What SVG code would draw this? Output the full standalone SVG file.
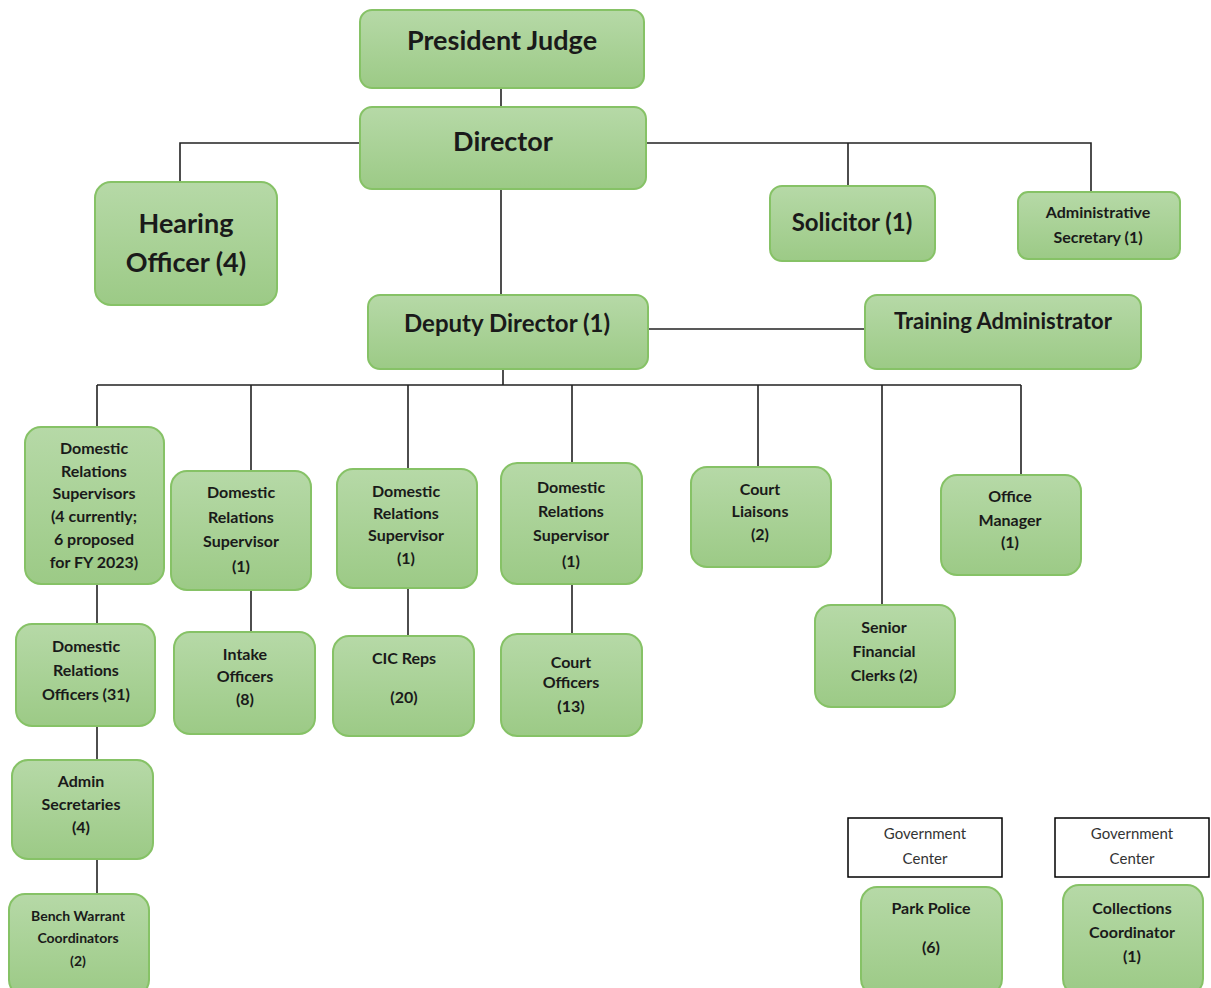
<svg xmlns="http://www.w3.org/2000/svg" width="1211" height="988" viewBox="0 0 1211 988">
<defs>
<linearGradient id="g" x1="0" y1="0" x2="0" y2="1">
<stop offset="0" stop-color="#b6d9a7"/>
<stop offset="1" stop-color="#9cca86"/>
</linearGradient>
<style>
.n{fill:url(#g);stroke:#86c266;stroke-width:2}
.w{fill:#fff;stroke:#000;stroke-width:1.5}
text{font-family:Lato,"Open Sans","Liberation Sans",sans-serif;fill:#1a1a1a;text-anchor:middle}
.b{font-weight:bold}
.xl{font-size:27px}
.l{font-size:24px}
.m{font-size:22px}
.s{font-size:16px;font-weight:bold}
.xs{font-size:14px;font-weight:bold}
.g{font-size:15px;fill:#333}
#conn path{stroke:#222;stroke-width:1.6;fill:none}
</style>
</defs>
<rect width="1211" height="988" fill="#fff"/>
<g id="conn">
<path d="M501 88V107"/>
<path d="M360 143H180V182"/>
<path d="M646 143H1091V192M848 143V186"/>
<path d="M501 189V295"/>
<path d="M648 329H865"/>
<path d="M503 369V385M97 385H1021"/>
<path d="M97 385V427M251 385V471M408 385V469M572 385V463M758 385V467M882 385V605M1021 385V475"/>
<path d="M97 584V624M251 590V632M408 588V636M572 584V634"/>
<path d="M97 726V760M97 859V894"/>
</g>
<g id="president"><rect class="n" x="360" y="10" width="284" height="78" rx="12"/><text class="b xl" x="502" y="50">President Judge</text></g>
<g id="director"><rect class="n" x="360" y="107" width="286" height="82" rx="12"/><text class="b xl" x="503" y="151">Director</text></g>
<g id="hearing"><rect class="n" x="95" y="182" width="182" height="123" rx="16"/><text class="b xl" x="186" y="233">Hearing</text><text class="b xl" x="186" y="272">Officer (4)</text></g>
<g id="solicitor"><rect class="n" x="770" y="186" width="165" height="75" rx="12"/><text class="b l" x="852" y="231">Solicitor (1)</text></g>
<g id="adminsec"><rect class="n" x="1018" y="192" width="162" height="67" rx="10"/><text class="s" x="1098" y="218">Administrative</text><text class="s" x="1098" y="243">Secretary (1)</text></g>
<g id="deputy"><rect class="n" x="368" y="295" width="280" height="74" rx="12"/><text class="b l" x="507" y="332">Deputy Director (1)</text></g>
<g id="training"><rect class="n" x="865" y="295" width="276" height="74" rx="12"/><text class="b m" x="1003" y="329">Training Administrator</text></g>
<g id="drs4"><rect class="n" x="25" y="427" width="139" height="157" rx="16"/>
<text class="s" x="94" y="454">Domestic</text><text class="s" x="94" y="477">Relations</text><text class="s" x="94" y="499">Supervisors</text><text class="s" x="94" y="522">(4 currently;</text><text class="s" x="94" y="545">6 proposed</text><text class="s" x="94" y="568">for FY 2023)</text></g>
<g id="drs1a"><rect class="n" x="171" y="471" width="140" height="119" rx="16"/>
<text class="s" x="241" y="498">Domestic</text><text class="s" x="241" y="523">Relations</text><text class="s" x="241" y="547">Supervisor</text><text class="s" x="241" y="572">(1)</text></g>
<g id="drs1b"><rect class="n" x="337" y="469" width="140" height="119" rx="16"/>
<text class="s" x="406" y="497">Domestic</text><text class="s" x="406" y="519">Relations</text><text class="s" x="406" y="541">Supervisor</text><text class="s" x="406" y="564">(1)</text></g>
<g id="drs1c"><rect class="n" x="501" y="463" width="141" height="121" rx="16"/>
<text class="s" x="571" y="493">Domestic</text><text class="s" x="571" y="517">Relations</text><text class="s" x="571" y="541">Supervisor</text><text class="s" x="571" y="567">(1)</text></g>
<g id="liaisons"><rect class="n" x="691" y="467" width="140" height="100" rx="16"/>
<text class="s" x="760" y="495">Court</text><text class="s" x="760" y="517">Liaisons</text><text class="s" x="760" y="540">(2)</text></g>
<g id="office"><rect class="n" x="941" y="475" width="140" height="100" rx="16"/>
<text class="s" x="1010" y="502">Office</text><text class="s" x="1010" y="526">Manager</text><text class="s" x="1010" y="548">(1)</text></g>
<g id="clerks"><rect class="n" x="815" y="605" width="140" height="102" rx="16"/>
<text class="s" x="884" y="633">Senior</text><text class="s" x="884" y="657">Financial</text><text class="s" x="884" y="681">Clerks (2)</text></g>
<g id="dro"><rect class="n" x="16" y="624" width="139" height="102" rx="16"/>
<text class="s" x="86" y="652">Domestic</text><text class="s" x="86" y="676">Relations</text><text class="s" x="86" y="700">Officers (31)</text></g>
<g id="intake"><rect class="n" x="174" y="632" width="141" height="102" rx="16"/>
<text class="s" x="245" y="660">Intake</text><text class="s" x="245" y="682">Officers</text><text class="s" x="245" y="705">(8)</text></g>
<g id="cic"><rect class="n" x="333" y="636" width="141" height="100" rx="16"/>
<text class="s" x="404" y="664">CIC Reps</text><text class="s" x="404" y="703">(20)</text></g>
<g id="courtoff"><rect class="n" x="501" y="634" width="141" height="102" rx="16"/>
<text class="s" x="571" y="668">Court</text><text class="s" x="571" y="688">Officers</text><text class="s" x="571" y="712">(13)</text></g>
<g id="adminsecs"><rect class="n" x="12" y="760" width="141" height="99" rx="16"/>
<text class="s" x="81" y="787">Admin</text><text class="s" x="81" y="810">Secretaries</text><text class="s" x="81" y="833">(4)</text></g>
<g id="bench"><rect class="n" x="9" y="894" width="140" height="102" rx="16"/>
<text class="xs" x="78" y="921">Bench Warrant</text><text class="xs" x="78" y="943">Coordinators</text><text class="xs" x="78" y="966">(2)</text></g>
<g id="gov1"><rect class="w" x="848" y="818" width="154" height="59"/><text class="g" x="925" y="839">Government</text><text class="g" x="925" y="864">Center</text></g>
<g id="gov2"><rect class="w" x="1055" y="818" width="154" height="59"/><text class="g" x="1132" y="839">Government</text><text class="g" x="1132" y="864">Center</text></g>
<g id="park"><rect class="n" x="861" y="887" width="141" height="108" rx="16"/>
<text class="s" x="931" y="914">Park Police</text><text class="s" x="931" y="953">(6)</text></g>
<g id="collections"><rect class="n" x="1063" y="885" width="140" height="110" rx="16"/>
<text class="s" x="1132" y="914">Collections</text><text class="s" x="1132" y="938">Coordinator</text><text class="s" x="1132" y="962">(1)</text></g>
</svg>
